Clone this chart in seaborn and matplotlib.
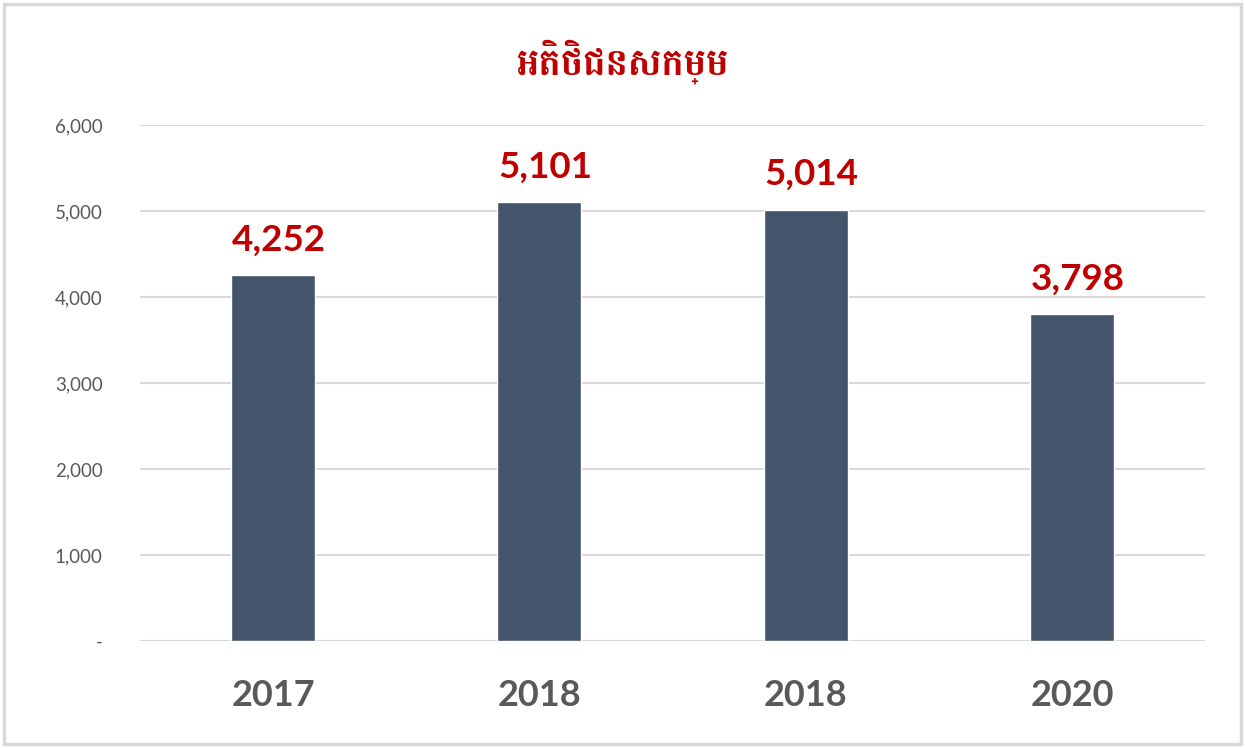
import matplotlib
matplotlib.use("Agg")
import matplotlib.pyplot as plt
from matplotlib.patches import Rectangle
import seaborn as sns
import pandas as pd

title = "អតិថិជនសកម្ម"
years = ["2017", "2018", "2018", "2020"]
values = [4252, 5101, 5014, 3798]
yticks = [0, 1000, 2000, 3000, 4000, 5000, 6000]

sns.set_theme(style="white")
plt.rcParams['font.family'] = ['Lato', 'DejaVu Sans']

fig = plt.figure(figsize=(12.45, 7.48), dpi=100)
ax = fig.add_axes([140/1245, 1 - 641/748, 1065/1245, (641-125)/748])

df = pd.DataFrame({"slot": list(range(len(years))), "value": values})
sns.barplot(data=df, x="slot", y="value", color="#44546A", saturation=1,
            width=0.315, ax=ax)
ax.set_xlim(-0.5, len(years) - 0.5)
ax.set_ylim(0, 6000)
ax.set_yticks(yticks)
ax.set_yticklabels([f"{v:,}" if v else "-" for v in yticks],
                   fontsize=13.5, color="#595959")
ax.set_xticks(range(len(years)))
ax.set_xticklabels(years, fontsize=26, fontweight="bold", color="#595959")
ax.tick_params(axis="x", pad=27, length=0)
ax.tick_params(axis="y", pad=27, length=0)
ax.set_xlabel("")
ax.set_ylabel("")
for s in ax.spines.values():
    s.set_visible(False)
ax.grid(axis="y", color="#D9D9D9", linewidth=1.5)
ax.set_axisbelow(True)

for i, v in enumerate(values):
    ax.annotate(f"{v:,}", (i, v), xytext=(4, 18), textcoords="offset points",
                ha="center", va="baseline", fontsize=26.5, fontweight="bold",
                color="#C00000")

fig.text(622/1245, 1 - 62/748, title, ha="center", va="center", fontsize=27,
         color="#C00000", fontweight="bold", family=['Battambang', 'DejaVu Sans'])

fig.patches.append(Rectangle((4/1245, 4/748), 1237/1245, 740/748,
                             transform=fig.transFigure, fill=False,
                             edgecolor="#D9D9D9", linewidth=2.5))
fig.savefig("out.png", dpi=100)
